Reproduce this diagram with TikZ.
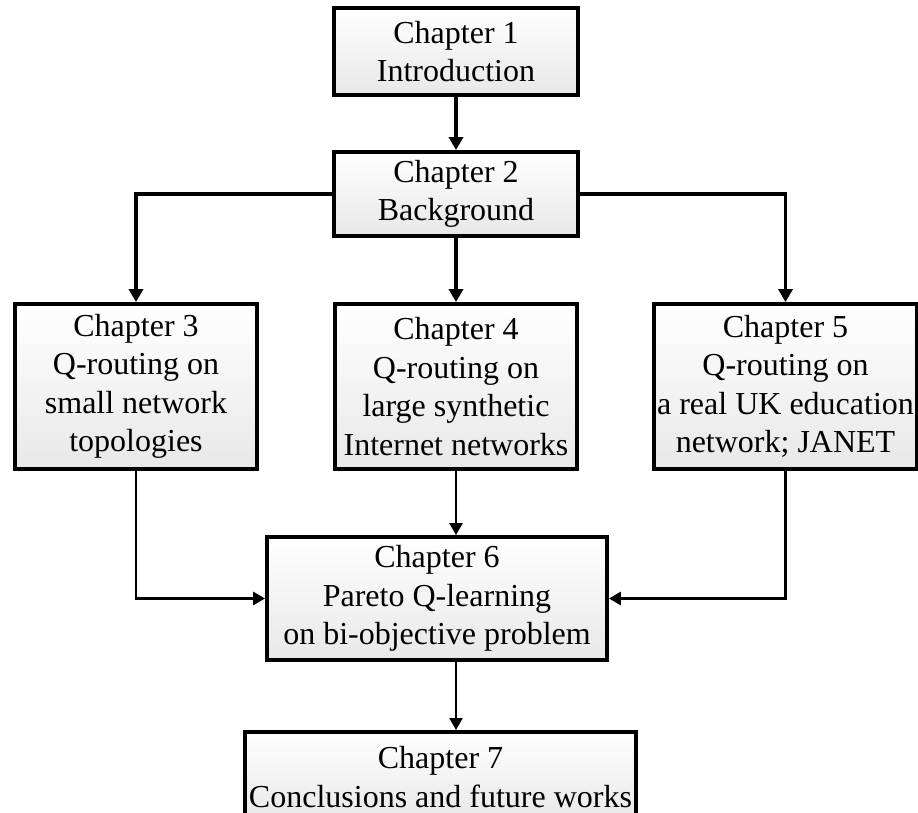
\documentclass[tikz,border=0pt]{standalone}
\usepackage{fontspec}
\setmainfont{Liberation Serif}
\usetikzlibrary{arrows.meta,shadows}
\begin{document}
\begin{tikzpicture}[x=1pt,y=-1pt,
  chapbox/.style={draw=black, line width=3.8pt, rectangle, align=center,
    top color=white, bottom color=black!9, inner sep=0pt,
    drop shadow={shadow xshift=1.5pt, shadow yshift=-1.5pt, opacity=0.25},
    font=\fontsize{32}{38.5}\selectfont},
  link/.style={line width=3.4pt, -{Triangle[length=13pt,width=14pt]}},
  thinlink/.style={line width=2.4pt, -{Triangle[length=12pt,width=13pt]}}]
\useasboundingbox (0,0) rectangle (918,813);
\clip (0,0) rectangle (918,813);

% chapter boxes
\node[chapbox, minimum width=244pt, minimum height=87pt] (c1) at (456,51.5) {Chapter 1\\Introduction};
\node[chapbox, minimum width=244pt, minimum height=84pt] (c2) at (456,194) {Chapter 2\\Background};
\node[chapbox, minimum width=242pt, minimum height=165pt] (c3) at (136,386.5) {Chapter 3\\Q-routing on\\small network\\topologies};
\node[chapbox, minimum width=242pt, minimum height=165pt] (c4) at (456,386.5) {Chapter 4\\Q-routing on\\large synthetic\\Internet networks};
\node[chapbox, minimum width=263pt, minimum height=165pt] (c5) at (785.5,386.5) {Chapter 5\\Q-routing on\\a real UK education\\network; JANET};
\node[chapbox, minimum width=340pt, minimum height=123pt] (c6) at (437,598.5) {Chapter 6\\Pareto Q-learning\\on bi-objective problem};
\node[chapbox, minimum width=391pt, minimum height=90pt, anchor=north] (c7) at (440.5,730) {Chapter 7\\Conclusions and future works};

% connectors
\draw[link] (c1) -- (c2);
\draw[link] (c2.west) -| (c3.north);
\draw[link] (c2.east) -| (c5.north);
\draw[link] (c2) -- (c4);
\coordinate (c6top) at (c4.south |- c6.north);
\coordinate (c6bot) at (c4.south |- c6.south);
\draw[thinlink] (c4.south) -- (c6top);
\draw[thinlink, line width=2.9pt] (c3.south) |- (c6.west);
\draw[thinlink, line width=2.9pt] (c5.south) |- (c6.east);
\draw[thinlink] (c6bot) -- (c6bot |- c7.north);
\end{tikzpicture}
\end{document}
